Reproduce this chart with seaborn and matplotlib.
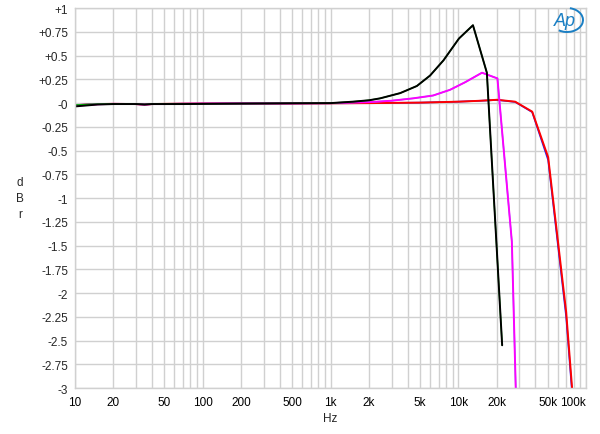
import numpy as np
import pandas as pd
import matplotlib
matplotlib.use("Agg")
import matplotlib.pyplot as plt
import seaborn as sns
from matplotlib.ticker import FixedLocator, NullFormatter
from matplotlib.patches import Arc

# ---- data ----
f_black = [10, 15, 20, 30, 35, 40, 50, 70, 100, 200, 500, 1000, 1500, 2000, 2440,
           3500, 4730, 6000, 7640, 10100, 13000, 16700, 22000]
db_black = [-0.035, -0.015, -0.01, -0.01, -0.015, -0.01, -0.01, -0.01, -0.008, -0.005,
            -0.002, 0.0, 0.015, 0.03, 0.05, 0.105, 0.18, 0.29, 0.45, 0.68, 0.82, 0.32, -2.55]
db_green = [-0.02, -0.01, -0.008, -0.01, -0.014, -0.01, -0.009, -0.009, -0.007, -0.005,
            -0.002, 0.0, 0.015, 0.03, 0.05, 0.105, 0.18, 0.29, 0.45, 0.68, 0.82, 0.32, -2.55]

f_mag = [10, 15, 20, 30, 35, 40, 50, 70, 100, 200, 500, 1000, 2000, 3000, 4420, 6340,
         8600, 11300, 15300, 20200, 26200, 29400]
db_mag = [-0.028, -0.012, -0.008, -0.01, -0.015, -0.01, -0.01, -0.008, -0.006, -0.004,
          -0.002, 0.0, 0.01, 0.025, 0.05, 0.08, 0.14, 0.22, 0.32, 0.26, -1.46, -4.0]
db_cyan = [-0.022, -0.01, -0.008, -0.01, -0.014, -0.01, -0.009, -0.008, -0.006, -0.004,
           -0.002, 0.0, 0.01, 0.025, 0.05, 0.08, 0.14, 0.22, 0.32, 0.26, -1.46, -4.0]

f_red = [10, 15, 20, 30, 35, 40, 50, 70, 100, 200, 500, 1000, 2000, 5000, 10000, 15000,
         20100, 27800, 37800, 50400, 69700, 80700]
db_red = [-0.022, -0.01, -0.008, -0.01, -0.015, -0.01, -0.008, -0.006, -0.005, -0.004,
          -0.003, -0.002, 0.0, 0.005, 0.015, 0.025, 0.035, 0.015, -0.09, -0.57, -2.2, -3.3]
db_blue = [-0.02, -0.01, -0.008, -0.01, -0.014, -0.01, -0.008, -0.006, -0.005, -0.004,
           -0.003, -0.002, 0.0, 0.005, 0.015, 0.025, 0.033, 0.012, -0.095, -0.6, -2.25, -3.35]

y_ticks = [1, 0.75, 0.5, 0.25, 0, -0.25, -0.5, -0.75, -1, -1.25, -1.5, -1.75, -2,
           -2.25, -2.5, -2.75, -3]
y_labels = ["+1", "+0.75", "+0.5", "+0.25", "-0", "-0.25", "-0.5", "-0.75", "-1",
            "-1.25", "-1.5", "-1.75", "-2", "-2.25", "-2.5", "-2.75", "-3"]
x_ticks = [10, 20, 50, 100, 200, 500, 1000, 2000, 5000, 10000, 20000, 50000, 100000]
x_labels = ["10", "20", "50", "100", "200", "500", "1k", "2k", "5k", "10k", "20k", "50k", "100k"]

# drawing order: bottom first
traces = [
    ("blue", f_red, db_blue, "#2020ff", 1.2),
    ("red", f_red, db_red, "#ff0000", 1.4),
    ("cyan", f_mag, db_cyan, "#00d8d8", 1.0),
    ("magenta", f_mag, db_mag, "#ff00ff", 1.4),
    ("green", f_black, db_green, "#00c000", 1.0),
    ("black", f_black, db_black, "#000000", 1.4),
]

sns.set_style("white")
plt.rcParams['font.family'] = ['Liberation Sans', 'DejaVu Sans']

fig = plt.figure(figsize=(6.0, 4.35), dpi=100)
ax = fig.add_axes([0.125, 0.1057, 0.852, 0.8733])

for name, f, d, c, lw in traces:
    sub = pd.DataFrame({"Hz": f, "dBr": d})
    sns.lineplot(data=sub, x="Hz", y="dBr", color=c, sort=False, estimator=None,
                 linewidth=lw, legend=False, ax=ax)

ax.set_xscale("log")
ax.set_xlim(10, 100000)
ax.set_ylim(-3, 1)

ax.xaxis.set_major_locator(FixedLocator(x_ticks))
ax.set_xticklabels(x_labels)
minor_x = [m * 10 ** e for e in range(1, 5) for m in range(2, 10)]
ax.xaxis.set_minor_locator(FixedLocator(minor_x))
ax.xaxis.set_minor_formatter(NullFormatter())
ax.set_yticks(y_ticks)
ax.set_yticklabels(y_labels)
ax.yaxis.set_minor_locator(FixedLocator(np.arange(-3, 1.0001, 0.025)))

gc = "#d0d0d0"
ax.grid(True, which="major", axis="both", color=gc, linewidth=1.0)
ax.grid(True, which="minor", axis="x", color=gc, linewidth=1.0)
ax.set_axisbelow(True)
for s in ax.spines.values():
    s.set_color(gc)
    s.set_linewidth(1.0)

ax.tick_params(axis="x", which="both", length=0, labelsize=8.5, pad=6, colors="black")
ax.tick_params(axis="y", which="major", length=0, labelsize=8.5, pad=5)
ax.tick_params(axis="y", which="minor", direction="in", length=5, color=gc, width=0.8)
ax.get_xticklabels()[-1].set_horizontalalignment("right")

ax.set_xlabel("")
ax.set_ylabel("")
fig.text(330 / 600, 1 - 419 / 435, "Hz", ha="center", va="center", fontsize=8.5)
fig.text(20 / 600, 1 - 199 / 435, "d\nB\nr", ha="center", va="center", fontsize=8.5,
         linespacing=1.45)

# AP logo
logo_c = "#1a7fc4"
fig.text(565 / 600, 1 - 22 / 435, "Ap", ha="center", va="center", fontsize=13,
         fontstyle="italic", color=logo_c)
arc = Arc((567 / 600, 1 - 21 / 435), 32 / 600, 24 / 435, angle=0, theta1=-120, theta2=80,
          transform=fig.transFigure, color=logo_c, linewidth=1.4)
fig.add_artist(arc)

fig.savefig("out.png", dpi=100)
